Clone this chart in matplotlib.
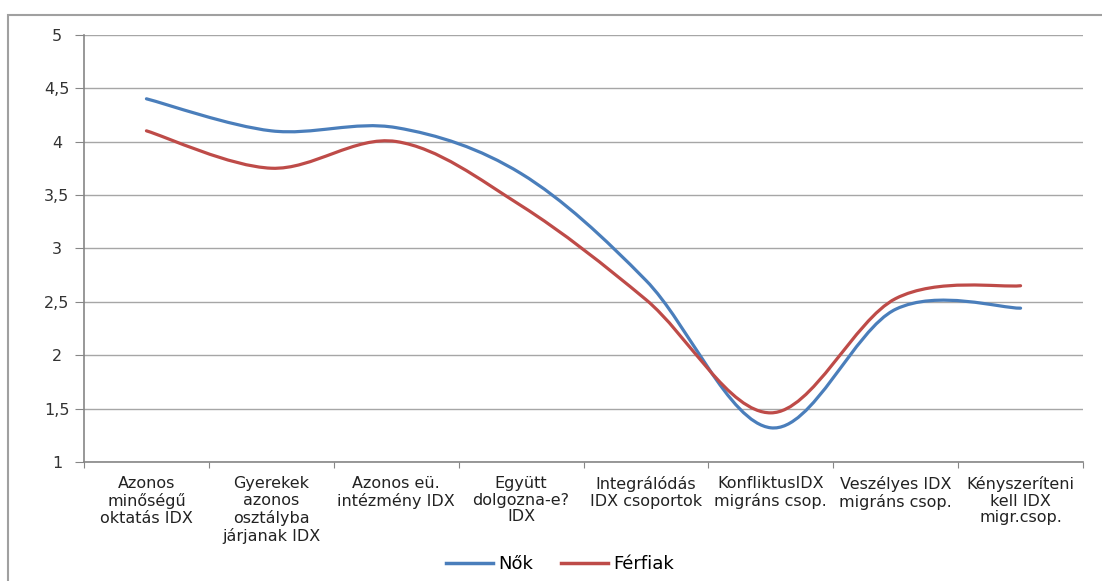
import numpy as np
import matplotlib.pyplot as plt
from matplotlib.path import Path
from matplotlib.patches import PathPatch, Rectangle
from matplotlib.lines import Line2D

# Adatok
kategoriak = [
    "Azonos\nminőségű\noktatás IDX",
    "Gyerekek\nazonos\nosztályba\njárjanak IDX",
    "Azonos eü.\nintézmény IDX",
    "Együtt\ndolgozna-e?\nIDX",
    "Integrálódás\nIDX csoportok",
    "KonfliktusIDX\nmigráns csop.",
    "Veszélyes IDX\nmigráns csop.",
    "Kényszeríteni\nkell IDX\nmigr.csop.",
]
nok = [4.40, 4.10, 4.13, 3.70, 2.70, 1.32, 2.43, 2.44]
ferfiak = [4.10, 3.75, 4.00, 3.40, 2.52, 1.46, 2.53, 2.65]
y_tick_ertekek = [1, 1.5, 2, 2.5, 3, 3.5, 4, 4.5, 5]
y_tick_cimkek = ["1", "1,5", "2", "2,5", "3", "3,5", "4", "4,5", "5"]

kek = "#4A7EBB"
piros = "#BE4B48"
racs = "#A6A6A6"


def simitott_ut(xs, ys):
    # Excel-szerű simított vonal: Catmull-Rom -> Bezier
    pts = np.column_stack([xs, ys])
    n = len(pts)
    verts = [pts[0]]
    codes = [Path.MOVETO]
    for i in range(n - 1):
        p0 = pts[max(i - 1, 0)]
        p1 = pts[i]
        p2 = pts[i + 1]
        p3 = pts[min(i + 2, n - 1)]
        c1 = p1 + (p2 - p0) / 6
        c2 = p2 - (p3 - p1) / 6
        verts += [c1, c2, p2]
        codes += [Path.CURVE4] * 3
    return Path(verts, codes)


fig = plt.figure(figsize=(11.02, 5.81), dpi=100)
ax = fig.add_axes([84 / 1102, 1 - 462 / 581, 999 / 1102, (462 - 34.7) / 581])

# keret
fig.patches.append(Rectangle((8 / 1102, -0.05), 1.2, 1 - 15 / 581 + 0.05,
                             transform=fig.transFigure, fill=False,
                             edgecolor="#A0A0A0", linewidth=1.5))

x = np.arange(len(kategoriak))
for adat, szin in [(nok, kek), (ferfiak, piros)]:
    ax.add_patch(PathPatch(simitott_ut(x, adat), facecolor="none",
                           edgecolor=szin, linewidth=2.3, capstyle="round",
                           joinstyle="round", zorder=3))

ax.set_xlim(-0.5, len(kategoriak) - 0.5)
ax.set_ylim(1, 5)
ax.set_yticks(y_tick_ertekek)
ax.set_yticklabels(y_tick_cimkek, fontsize=11.5, color="#333333")
ax.yaxis.grid(True, color=racs, linewidth=1)
ax.set_axisbelow(True)

ax.set_xticks(np.arange(len(kategoriak) + 1) - 0.5)
ax.set_xticklabels([])
ax.set_xticks(x, minor=True)
ax.set_xticklabels(kategoriak, minor=True, fontsize=11.5, color="#222222",
                   linespacing=1.15, va="top")
ax.tick_params(axis="x", which="minor", length=0, pad=10)
ax.tick_params(axis="x", which="major", length=4, color="#868686")
ax.tick_params(axis="y", length=6.5, color="#868686", pad=13)
for lbl in ax.get_yticklabels():
    lbl.set_horizontalalignment("center")

for side in ["top", "right"]:
    ax.spines[side].set_visible(False)
for side in ["left", "bottom"]:
    ax.spines[side].set_color("#868686")
    ax.spines[side].set_linewidth(1.2)

kezelok = [Line2D([], [], color=kek, linewidth=2.5),
           Line2D([], [], color=piros, linewidth=2.5)]
fig.legend(kezelok, ["Nők", "Férfiak"], loc="center",
           bbox_to_anchor=(560 / 1102, 1 - 564 / 581), ncol=2, frameon=False,
           prop={"size": 13},
           handlelength=2.6, handletextpad=0.3, columnspacing=1.5)

fig.savefig("out.png", dpi=100)
